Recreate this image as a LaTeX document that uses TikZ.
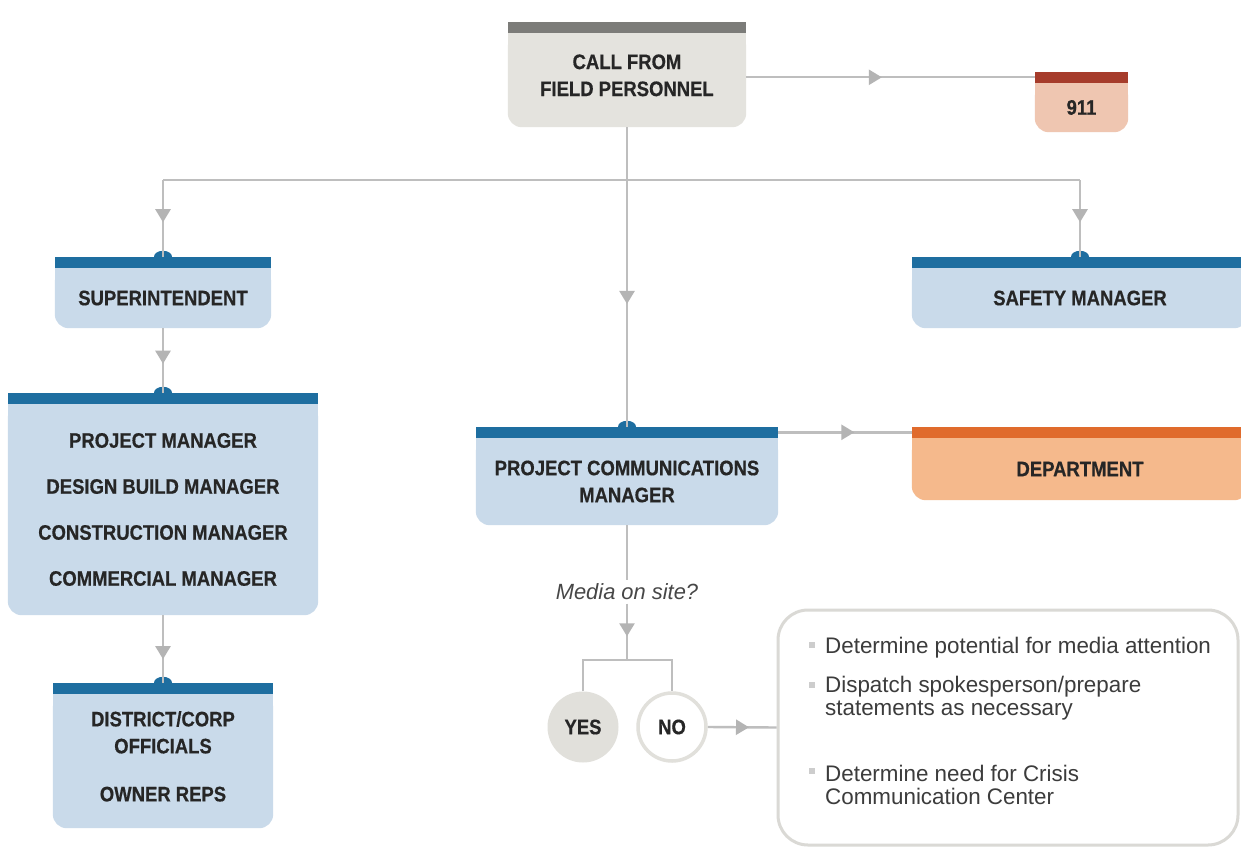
\documentclass[tikz,border=0pt]{standalone}
\usepackage{fontspec}
\setmainfont{Liberation Sans}
\newfontfamily\condbf[FakeStretch=0.88,FakeBold=0.5]{Liberation Sans}
\newfontfamily\condrm[FakeStretch=0.995]{Liberation Sans}
\usetikzlibrary{arrows.meta,decorations.markings}
\pgfdeclarelayer{background}
\pgfsetlayers{background,main}

\definecolor{ink}{HTML}{262626}
\definecolor{wire}{HTML}{BEBEBE}
\definecolor{tipgray}{HTML}{B4B4B4}
\definecolor{blueband}{HTML}{1E6EA0}
\definecolor{bluebody}{HTML}{C9DAEA}
\definecolor{grayband}{HTML}{7C7C79}
\definecolor{graybody}{HTML}{E4E3DE}
\definecolor{redband}{HTML}{A63C2B}
\definecolor{redbody}{HTML}{EFC6B1}
\definecolor{orangeband}{HTML}{E06B2C}
\definecolor{orangebody}{HTML}{F5B98C}
\definecolor{yesfill}{HTML}{E1E0DB}
\definecolor{panelline}{HTML}{DAD9D5}
\definecolor{bulletgray}{HTML}{CDCDCD}

% body of a box with a coloured band on top and rounded lower corners
\newcommand\bandbox[3]{%
  \begin{pgfonlayer}{background}
    \fill[#3, rounded corners=14pt] (#1.north west) rectangle (#1.south east);
    \fill[#3] (#1.north west) rectangle (#1.east);
    \fill[#2] ([yshift=11pt]#1.north west) rectangle (#1.north east);
  \end{pgfonlayer}}
% small dome where a connector meets a band
\newcommand\bump[1]{%
  \begin{pgfonlayer}{background}
    \fill[blueband] (#1) ellipse [x radius=9pt, y radius=6pt];
  \end{pgfonlayer}}

\tikzset{
  conn/.style={draw=wire, line width=2.4pt},
  midarrow/.style={postaction={decorate}, decoration={markings,
      mark=at position #1 with {\arrow[tipgray]{Triangle[width=15pt,length=13pt]}}}},
  body/.style 2 args={rectangle, minimum width=#1, minimum height=#2, inner sep=0pt,
      align=center, text=ink, font=\condbf\bfseries\fontsize{21}{27}\selectfont},
  itemtext/.style={anchor=west, align=left, inner sep=0pt, text=ink!90,
      font=\condrm\fontsize{22.5}{23.5}\selectfont},
  answer/.style={circle, minimum size=71pt, inner sep=0pt, text=ink,
      font=\condbf\bfseries\fontsize{21}{27}\selectfont},
}

\begin{document}
\begin{tikzpicture}[x=1pt, y=-1pt]
  \useasboundingbox (0,0) rectangle (1241,848);
  \begin{pgfonlayer}{background}
    \fill[white] (0,0) rectangle (1241,848);
  \end{pgfonlayer}

  % boxes
  \node[body={238pt}{94pt}, text depth=9.5pt] (call) at (627,80) {CALL FROM\\FIELD PERSONNEL};
  \node[body={93pt}{49pt}] (n911) at (1081.5,107.5) {911};
  \node[body={216pt}{60pt}] (super) at (163,298) {SUPERINTENDENT};
  \node[body={336pt}{60pt}] (safety) at (1080,298) {SAFETY MANAGER};
  \node[body={310pt}{211pt}] (pm) at (163,509.5)
    {PROJECT MANAGER\\[19pt]DESIGN BUILD MANAGER\\[19pt]CONSTRUCTION MANAGER\\[19pt]COMMERCIAL MANAGER};
  \node[body={220pt}{134pt}, text depth=9.5pt] (district) at (163,761)
    {DISTRICT/CORP\\OFFICIALS\\[21pt]OWNER REPS};
  \node[body={302pt}{87pt}] (pcm) at (627,481.5) {PROJECT COMMUNICATIONS\\MANAGER};
  \node[body={336pt}{62pt}] (dept) at (1080,469) {DEPARTMENT};

  \bandbox{call}{grayband}{graybody}
  \bandbox{n911}{redband}{redbody}
  \bandbox{super}{blueband}{bluebody}
  \bandbox{safety}{blueband}{bluebody}
  \bandbox{pm}{blueband}{bluebody}
  \bandbox{district}{blueband}{bluebody}
  \bandbox{pcm}{blueband}{bluebody}
  \bandbox{dept}{orangeband}{orangebody}

  % connection points on the bands
  \coordinate (super-top) at ([yshift=11pt]super.north);
  \coordinate (safety-top) at ([yshift=11pt]safety.north);
  \coordinate (pm-top) at ([yshift=11pt]pm.north);
  \coordinate (district-top) at ([yshift=11pt]district.north);
  \coordinate (pcm-top) at ([yshift=11pt]pcm.north);
  \coordinate (t911) at ([yshift=5.5pt]n911.north west);
  \coordinate (pcm-right) at ([yshift=5.5pt]pcm.north east);
  \coordinate (dept-left) at ([yshift=5.5pt]dept.north west);
  \coordinate (bus) at (627,180);
  \coordinate (split) at (627,660);

  \bump{super-top}
  \bump{safety-top}
  \bump{pm-top}
  \bump{district-top}
  \bump{pcm-top}

  % media question and answers
  \node[font=\condrm\itshape\fontsize{22}{25}\selectfont, text=ink!85] (media) at (627,592) {Media on site?};
  \node[answer, fill=yesfill] (yes) at (583,727) {YES};
  \node[answer, draw=yesfill, line width=3.5pt, fill=white, minimum size=68pt] (no) at (672,727) {NO};

  % action panel
  \node[draw=panelline, line width=3pt, rounded corners=30pt, fill=white,
        minimum width=460pt, minimum height=235pt] (bullets) at (1008,727.5) {};
  \node[itemtext] (b1) at (825,648) {Determine potential for media attention};
  \node[itemtext] (b2) at (825,698) {Dispatch spokesperson/prepare\\statements as necessary};
  \node[itemtext] (b3) at (825,785) {Determine need for Crisis\\Communication Center};
  \fill[bulletgray] (809,642) rectangle (815,648);
  \fill[bulletgray] (809,682) rectangle (815,688);
  \fill[bulletgray] (809,768) rectangle (815,774);

  % connectors
  \draw[conn, midarrow=0.47] (call.east |- t911) -- (t911);
  \draw[conn, midarrow=0.59] (call.south) -- (pcm-top);
  \draw[conn] (super-top |- bus) -- (safety-top |- bus);
  \draw[conn, midarrow=0.55] (super-top |- bus) -- (super-top);
  \draw[conn, midarrow=0.55] (safety-top |- bus) -- (safety-top);
  \draw[conn, midarrow=0.55] (super.south) -- (pm-top);
  \draw[conn, midarrow=0.65] (pm.south) -- (district-top);
  \draw[conn, midarrow=0.57] (pcm-right) -- (dept-left);
  \draw[conn] (pcm.south) -- (media.north);
  \draw[conn, midarrow=0.58] (media.south) -- (split);
  \draw[conn] (yes.north) -- (yes.north |- split) -- (no.north |- split) -- (no.north);
  \draw[conn, midarrow=0.6] (no.east) -- (bullets.west);
\end{tikzpicture}
\end{document}
